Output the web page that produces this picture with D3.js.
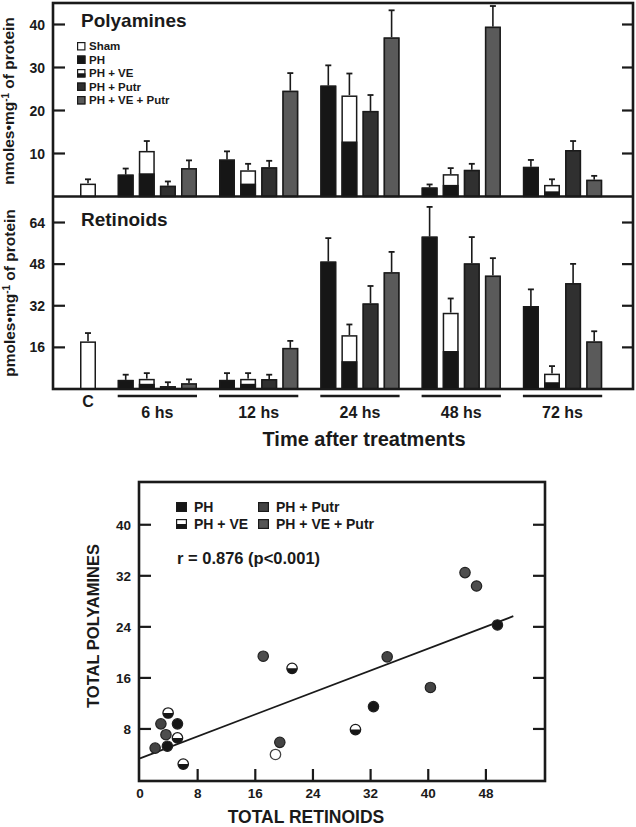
<!DOCTYPE html>
<html><head><meta charset="utf-8">
<script src="https://cdn.jsdelivr.net/npm/d3@7"></script>
<style>
body{margin:0;background:#fff}
svg{display:block}
text{font-family:"Liberation Sans",Arial,Helvetica,sans-serif;font-weight:bold;fill:#1a1a1a}
</style>
</head><body><svg id="c" width="636" height="827"></svg>
<script>
// ---------- DATA ----------
const times = ["6 hs", "12 hs", "24 hs", "48 hs", "72 hs"];
const series = ["PH", "PH + VE", "PH + Putr", "PH + VE + Putr"];
const legendTop = ["Sham", "PH", "PH + VE", "PH + Putr", "PH + VE + Putr"];

// Polyamines (nmoles/mg protein)
const polyShamC = 3.0, polyShamCErr = 1.0;
const polyPH = [5.1, 8.6, 25.8, 2.1, 6.9];
const polyVE = [10.6, 6.1, 23.5, 5.2, 2.7];
const polyVEdark = [5.4, 3.0, 12.8, 2.7, 1.2];
const polyPutr = [2.5, 6.8, 19.9, 6.2, 10.8];
const polyVEPutr = [6.6, 24.6, 37.0, 39.5, 3.9];
const polyErrPH = [1.4, 1.9, 4.7, 0.7, 1.6];
const polyErrVE = [2.3, 1.5, 5.1, 1.4, 1.3];
const polyErrPutr = [1.0, 1.5, 3.7, 1.4, 2.1];
const polyErrVEPutr = [1.8, 4.1, 6.3, 4.8, 0.9];
const polyTicks = [10, 20, 30, 40];

// Retinoids (pmoles/mg protein)
const retShamC = 18.3, retShamCErr = 3.2;
const retPH = [3.5, 3.5, 49.0, 58.6, 31.9];
const retVE = [3.9, 3.9, 20.7, 29.3, 5.9];
const retVEdark = [2.0, 2.0, 10.7, 14.6, 2.6];
const retPutr = [1.1, 3.8, 32.9, 48.3, 40.7];
const retVEPutr = [2.2, 15.8, 44.9, 43.6, 18.3];
const retErrPH = [2.0, 2.6, 9.0, 11.4, 6.4];
const retErrVE = [2.2, 2.2, 4.1, 5.5, 2.9];
const retErrPutr = [1.5, 1.7, 6.7, 10.1, 7.4];
const retErrVEPutr = [1.5, 2.7, 7.8, 6.7, 3.9];
const retTicks = [16, 32, 48, 64];

// Scatter: total retinoids vs total polyamines
const scatX = [45.1, 46.7, 49.6, 17.1, 21.1, 34.3, 40.3, 32.4, 29.9, 19.4, 18.8, 3.9, 2.9, 5.2, 3.6, 5.2, 2.1, 3.8, 6.0];
const scatY = [32.5, 30.4, 24.3, 19.4, 17.5, 19.3, 14.5, 11.5, 7.9, 5.9, 4.0, 10.5, 8.8, 8.8, 7.1, 6.6, 5.0, 5.3, 2.5];
const scatG = ["PH + VE + Putr", "PH + VE + Putr", "PH", "PH + VE + Putr", "PH + VE", "PH + Putr", "PH + Putr", "PH", "PH + VE", "PH + Putr", "open", "PH + VE", "PH + Putr", "PH", "PH + VE + Putr", "PH + VE", "PH + Putr", "PH", "PH + VE"];
const scatTicks = [8, 16, 24, 32, 40, 48];
const scatYTicks = [8, 16, 24, 32, 40];
const fitIntercept = 3.4, fitSlope = 0.43, fitXRange = [0, 51.8];
const corrText = "r = 0.876 (p<0.001)";

// ---------- DRAW ----------
const svg = d3.select("#c");
const ink = "#1a1a1a";
const fills = {"Sham": "#ffffff", "PH": "#161616", "PH + Putr": "#303030", "PH + VE + Putr": "#5a5a5a", "PH + VE": "#ffffff"};

const F = {l: 53, r: 633, t: 3, mid: 196.5, b: 389};
const yTop = d3.scaleLinear().domain([0, 45]).range([F.mid, F.t]);
const yBot = d3.scaleLinear().domain([0, 74]).range([F.b, F.mid]);
const xGroup = d3.scaleBand().domain(times).range([107, 613.5]);
const xSeries = d3.scaleBand().domain(series).range([8.15, 92.55]).paddingInner(0.242).paddingOuter(0.121);
const xC = d3.scaleBand().domain(["C"]).range([72, 104]).paddingOuter(0.5);
const bw = xSeries.bandwidth();

function drawBar(g, x, w, y, v, err, kind, dark) {
  const y0 = y(0), yv = y(v), ye = y(v + err), cx = x + w / 2;
  g.append("line").attr("x1", cx).attr("x2", cx).attr("y1", yv).attr("y2", ye)
    .attr("stroke", ink).attr("stroke-width", 1.6);
  g.append("line").attr("x1", cx - 3).attr("x2", cx + 3).attr("y1", ye).attr("y2", ye)
    .attr("stroke", ink).attr("stroke-width", 1.8);
  g.append("rect").attr("x", x).attr("y", yv).attr("width", w).attr("height", y0 - yv)
    .attr("fill", fills[kind]);
  if (kind === "PH + VE") {
    g.append("rect").attr("x", x).attr("y", y(dark)).attr("width", w).attr("height", y0 - y(dark))
      .attr("fill", fills["PH"]);
  }
  g.append("rect").attr("x", x + 0.75).attr("y", yv + 0.75).attr("width", w - 1.5).attr("height", Math.max(0, y0 - yv - 0.75))
    .attr("fill", "none").attr("stroke", ink).attr("stroke-width", 1.5);
}

function drawPanel(y, shamV, shamE, vals, errs, dark, ticks, title, titleY) {
  const g = svg.append("g");
  drawBar(g, xC("C"), xC.bandwidth(), y, shamV, shamE, "Sham");
  times.forEach((t, i) => {
    series.forEach((s, j) => {
      drawBar(g, xGroup(t) + xSeries(s), bw, y, vals[j][i], errs[j][i], s, dark[i]);
    });
  });
  ticks.forEach(v => {
    g.append("line").attr("x1", F.l).attr("x2", F.l + 12).attr("y1", y(v)).attr("y2", y(v))
      .attr("stroke", ink).attr("stroke-width", 2.2);
    g.append("line").attr("x1", F.r - 11).attr("x2", F.r).attr("y1", y(v)).attr("y2", y(v))
      .attr("stroke", ink).attr("stroke-width", 2.2);
    g.append("text").attr("x", 45).attr("y", y(v)).attr("dy", "0.36em")
      .attr("text-anchor", "end").attr("font-size", 14).text(v);
  });
  g.append("text").attr("x", 81).attr("y", titleY).attr("font-size", 19).text(title);
}

drawPanel(yTop, polyShamC, polyShamCErr,
  [polyPH, polyVE, polyPutr, polyVEPutr],
  [polyErrPH, polyErrVE, polyErrPutr, polyErrVEPutr], polyVEdark, polyTicks, "Polyamines", 27);
drawPanel(yBot, retShamC, retShamCErr,
  [retPH, retVE, retPutr, retVEPutr],
  [retErrPH, retErrVE, retErrPutr, retErrVEPutr], retVEdark, retTicks, "Retinoids", 226);

// frame
svg.append("rect").attr("x", F.l).attr("y", F.t).attr("width", F.r - F.l).attr("height", F.b - F.t)
  .attr("fill", "none").attr("stroke", ink).attr("stroke-width", 2.6);
svg.append("line").attr("x1", F.l).attr("x2", F.r).attr("y1", F.mid).attr("y2", F.mid)
  .attr("stroke", ink).attr("stroke-width", 2.6);

// legend (top)
const lg = svg.append("g");
legendTop.forEach((k, i) => {
  const yy = 42 + i * 13.5;
  lg.append("rect").attr("x", 77).attr("y", yy).attr("width", 8.5).attr("height", 8.5).attr("fill", fills[k]);
  if (k === "PH + VE") lg.append("rect").attr("x", 77).attr("y", yy + 4.25).attr("width", 8.5).attr("height", 4.25).attr("fill", fills["PH"]);
  lg.append("rect").attr("x", 77.6).attr("y", yy + 0.6).attr("width", 7.3).attr("height", 7.3)
    .attr("fill", "none").attr("stroke", ink).attr("stroke-width", 1.2);
  lg.append("text").attr("x", 89).attr("y", yy + 8.3).attr("font-size", 11.5).text(k);
});

// x labels
svg.append("text").attr("x", xC("C") + xC.bandwidth() / 2).attr("y", 407).attr("text-anchor", "middle")
  .attr("font-size", 16).text("C");
times.forEach(t => {
  const x1 = xGroup(t) + xSeries(series[0]), x2 = xGroup(t) + xSeries(series[3]) + bw;
  svg.append("line").attr("x1", x1).attr("x2", x2).attr("y1", 396).attr("y2", 396)
    .attr("stroke", ink).attr("stroke-width", 2.6);
  svg.append("text").attr("x", (x1 + x2) / 2).attr("y", 418).attr("text-anchor", "middle")
    .attr("font-size", 16).text(t);
});
svg.append("text").attr("x", 364).attr("y", 446).attr("text-anchor", "middle")
  .attr("font-size", 20).text("Time after treatments");

function yLabel(x, y, prefix) {
  const t = svg.append("text").attr("transform", `translate(${x},${y}) rotate(-90)`)
    .attr("text-anchor", "middle").attr("font-size", 15.5);
  t.append("tspan").text(prefix + "moles\u2022mg");
  t.append("tspan").attr("dy", -5).attr("font-size", 10).text("-1");
  t.append("tspan").attr("dy", 5).text(" of  protein");
}
yLabel(14, 101, "n");
yLabel(15, 293, "p");

// ---------- SCATTER ----------
const S = {l: 139, r: 545, t: 482, b: 781};
const sx = d3.scaleLinear().domain([0, 56.2]).range([140, 545]);
const sy = d3.scaleLinear().domain([0, 46.7]).range([780, 482]);
const sg = svg.append("g");

// fit line
sg.append("line").attr("x1", sx(fitXRange[0])).attr("x2", sx(fitXRange[1]))
  .attr("y1", sy(fitIntercept + fitSlope * fitXRange[0])).attr("y2", sy(fitIntercept + fitSlope * fitXRange[1]))
  .attr("stroke", ink).attr("stroke-width", 1.8);

const R = 5.2;
scatX.forEach((xv, i) => {
  const cx = sx(xv), cy = sy(scatY[i]), k = scatG[i];
  if (k === "PH + VE" || k === "open") {
    sg.append("circle").attr("cx", cx).attr("cy", cy).attr("r", R).attr("fill", "#fff");
    if (k === "PH + VE")
      sg.append("path").attr("d", `M${cx - R},${cy} A${R},${R} 0 0 0 ${cx + R},${cy} Z`).attr("fill", "#161616");
    sg.append("circle").attr("cx", cx).attr("cy", cy).attr("r", R).attr("fill", "none")
      .attr("stroke", k === "open" ? "#444" : ink).attr("stroke-width", 1.3);
  } else {
    sg.append("circle").attr("cx", cx).attr("cy", cy).attr("r", R)
      .attr("fill", k === "PH" ? "#161616" : (k === "PH + Putr" ? "#444" : "#4e4e4e"))
      .attr("stroke", "#222").attr("stroke-width", 1.2);
  }
});

// axes ticks
scatYTicks.forEach(v => {
  sg.append("line").attr("x1", S.l).attr("x2", S.l + 12).attr("y1", sy(v)).attr("y2", sy(v))
    .attr("stroke", ink).attr("stroke-width", 2.2);
  sg.append("line").attr("x1", S.r - 12).attr("x2", S.r).attr("y1", sy(v)).attr("y2", sy(v))
    .attr("stroke", ink).attr("stroke-width", 2.2);
  sg.append("text").attr("x", 131).attr("y", sy(v)).attr("dy", "0.36em").attr("text-anchor", "end")
    .attr("font-size", 13.5).text(v);
});
scatTicks.forEach(v => {
  sg.append("line").attr("x1", sx(v)).attr("x2", sx(v)).attr("y1", S.b - 12).attr("y2", S.b)
    .attr("stroke", ink).attr("stroke-width", 2.2);
});
[0].concat(scatTicks).forEach(v => {
  sg.append("text").attr("x", sx(v)).attr("y", 798).attr("text-anchor", "middle")
    .attr("font-size", 13.5).text(v);
});
sg.append("rect").attr("x", S.l).attr("y", S.t).attr("width", S.r - S.l).attr("height", S.b - S.t)
  .attr("fill", "none").attr("stroke", ink).attr("stroke-width", 2.6);

// scatter legend
const sLeg = [["PH", 176, 502], ["PH + VE", 176, 519], ["PH + Putr", 258, 502], ["PH + VE + Putr", 258, 519]];
sLeg.forEach(([k, x, y]) => {
  const f = k === "PH + Putr" ? "#444" : (k === "PH + VE + Putr" ? "#555" : fills[k]);
  sg.append("rect").attr("x", x).attr("y", y).attr("width", 11).attr("height", 10).attr("fill", f);
  if (k === "PH + VE") sg.append("rect").attr("x", x).attr("y", y + 5).attr("width", 11).attr("height", 5).attr("fill", "#161616");
  sg.append("rect").attr("x", x + 0.6).attr("y", y + 0.6).attr("width", 9.8).attr("height", 8.8)
    .attr("fill", "none").attr("stroke", ink).attr("stroke-width", 1.2);
  sg.append("text").attr("x", x + 18).attr("y", y + 10).attr("font-size", 14).text(k);
});
sg.append("text").attr("x", 177).attr("y", 564).attr("font-size", 16.5).text(corrText);

sg.append("text").attr("x", 306).attr("y", 823).attr("text-anchor", "middle").attr("font-size", 17.5)
  .text("TOTAL RETINOIDS");
sg.append("text").attr("transform", "translate(99,626) rotate(-90)").attr("text-anchor", "middle")
  .attr("font-size", 16.5).text("TOTAL POLYAMINES");
</script></body></html>
